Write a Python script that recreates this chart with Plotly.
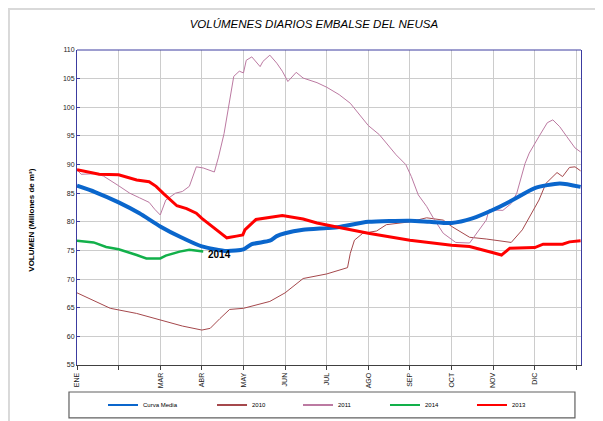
import plotly.graph_objects as go

# ---- data (day of year, volume in millones de m3) ----
media_dias = [0, 13, 30, 45, 60, 75, 90, 108, 120, 126, 139, 144, 150, 163, 180, 189, 210, 240, 254, 270, 285, 300, 314, 330, 348, 363]
media_vol = [86.3, 85.2, 83.4, 81.5, 79.2, 77.3, 75.7, 74.9, 75.2, 76.1, 76.7, 77.5, 78.0, 78.6, 78.9, 79.1, 80.0, 80.2, 80.0, 79.8, 80.6, 82.1, 83.8, 85.9, 86.7, 86.1]

v2010_dias = [0, 9, 24, 43, 60, 76, 90, 96, 103, 110, 120, 129, 139, 150, 163, 180, 189, 195, 197, 200, 206, 216, 223, 240, 252, 264, 270, 283, 295, 313, 321, 329, 333, 338, 346, 350, 355, 359, 363]
v2010_vol = [67.6, 66.6, 64.9, 64.0, 62.8, 61.8, 61.1, 61.4, 63.1, 64.7, 64.9, 65.5, 66.1, 67.6, 70.1, 70.9, 71.5, 72.0, 74.5, 76.8, 78.0, 78.4, 79.5, 80.0, 80.7, 80.3, 79.2, 77.3, 77.0, 76.4, 78.6, 82.1, 83.8, 86.7, 88.6, 87.9, 89.5, 89.6, 88.9]

v2011_dias = [0, 3, 13, 19, 30, 38, 45, 52, 56, 60, 64, 71, 76, 81, 86, 91, 99, 102, 106, 110, 113, 117, 120, 122, 126, 132, 134, 139, 144, 148, 152, 158, 163, 173, 180, 189, 197, 210, 218, 230, 237, 241, 246, 252, 257, 264, 273, 283, 289, 295, 297, 307, 313, 317, 323, 326, 333, 339, 343, 348, 353, 359, 363]
v2011_vol = [89.1, 88.3, 88.4, 88.0, 86.3, 85.0, 84.2, 83.4, 82.2, 81.2, 83.8, 85.0, 85.3, 86.2, 89.6, 89.4, 88.7, 91.3, 95.4, 101.3, 105.4, 106.3, 106.0, 108.2, 108.8, 107.1, 108.0, 109.1, 107.7, 106.3, 104.5, 106.1, 105.1, 104.3, 103.5, 102.2, 100.7, 96.8, 95.2, 91.7, 90.0, 87.9, 84.7, 82.7, 80.6, 78.0, 76.4, 76.3, 78.3, 80.3, 82.1, 82.0, 83.2, 85.0, 90.2, 92.0, 94.9, 97.3, 97.8, 96.6, 94.9, 92.9, 92.2]

v2014_dias = [0, 12, 21, 30, 43, 50, 60, 64, 74, 81, 91]
v2014_vol = [76.7, 76.4, 75.6, 75.2, 74.2, 73.6, 73.6, 74.1, 74.8, 75.1, 74.8]

v2013_dias = [0, 16, 30, 43, 52, 57, 62, 72, 79, 86, 90, 96, 108, 115, 119.5, 121, 129, 148, 163, 173, 182, 189, 210, 240, 270, 283, 300, 306, 312, 330, 336, 350, 355, 363]
v2013_vol = [89.1, 88.3, 88.2, 87.3, 87.0, 86.2, 85.0, 82.8, 82.3, 81.5, 80.6, 79.5, 77.2, 77.5, 77.7, 78.6, 80.4, 81.1, 80.5, 79.8, 79.3, 79.0, 78.0, 76.8, 75.9, 75.7, 74.6, 74.2, 75.4, 75.5, 76.1, 76.1, 76.5, 76.7]

tick_dias = [0, 60, 90, 120, 150, 180, 210, 240, 270, 300, 330]
tick_meses = ["ENE", "MAR", "ABR", "MAY", "JUN", "JUL", "AGO", "SEP", "OCT", "NOV", "DIC"]
y_ticks = [55, 60, 65, 70, 75, 80, 85, 90, 95, 100, 105, 110]

FONT = "Arial, Liberation Sans, sans-serif"

series = [
    ("2010", v2010_dias, v2010_vol, "#A5484C", 1, "linear", "legend2"),
    ("2011", v2011_dias, v2011_vol, "#BC7AA2", 1, "linear", "legend3"),
    ("Curva Media", media_dias, media_vol, "#0A66CC", 4, "spline", "legend"),
    ("2014", v2014_dias, v2014_vol, "#12B04A", 2.5, "linear", "legend4"),
    ("2013", v2013_dias, v2013_vol, "#FF0000", 3, "linear", "legend5"),
]

fig = go.Figure()
for name, xs, ys, color, w, shape, _ in series:
    line = dict(color=color, width=w, shape=shape)
    if shape == "spline":
        line["smoothing"] = 0.6
    fig.add_trace(go.Scatter(x=xs, y=ys, mode="lines", name=name, line=line,
                             showlegend=False))
# legend entries (thin sample lines as in the reference)
for name, xs, ys, color, w, shape, leg in series:
    fig.add_trace(go.Scatter(x=[None], y=[None], mode="lines", name=name,
                             line=dict(color=color, width=2), legend=leg,
                             showlegend=True, hoverinfo="skip"))

leg_common = dict(orientation="h", xanchor="left", yanchor="middle", y=-0.127,
                  bgcolor="rgba(0,0,0,0)", borderwidth=0, itemwidth=30,
                  font=dict(family=FONT, size=6, color="#000000"))
fig.update_layout(
    legend=dict(x=0.0516, **leg_common),
    legend2=dict(x=0.2679, **leg_common),
    legend3=dict(x=0.4385, **leg_common),
    legend4=dict(x=0.6111, **leg_common),
    legend5=dict(x=0.7837, **leg_common),
)

# page body has an 8px margin, so the figure is 8px smaller than the window
fig.update_layout(
    width=595, height=413,
    margin=dict(l=69, r=22, t=42, b=56, autoexpand=False),
    paper_bgcolor="white", plot_bgcolor="white",
    title=dict(text="VOLÚMENES DIARIOS EMBALSE DEL NEUSA", x=0.47, xref="paper",
               y=1 - 16 / 413, yref="container", xanchor="center", yanchor="middle",
               font=dict(family=FONT, size=11.5, color="#000000", style="italic")),
    xaxis=dict(range=[0, 363.3], tickmode="array", tickvals=tick_dias, ticktext=tick_meses,
               tickangle=-90, showgrid=True, gridcolor="#CCCCCC", gridwidth=1, zeroline=False,
               showline=True, linecolor="#404040", linewidth=1,
               ticks="outside", ticklen=4, tickcolor="#404040",
               minor=dict(tick0=0, dtick=30, showgrid=True, gridcolor="#CCCCCC", gridwidth=1,
                          ticks="outside", ticklen=4, tickcolor="#404040"),
               tickfont=dict(family=FONT, size=7, color="#222222")),
    yaxis=dict(range=[55, 110], tickvals=y_ticks, showgrid=True, gridcolor="#CCCCCC",
               gridwidth=1, zeroline=False, showline=True, linecolor="#3C3CA0", linewidth=1,
               mirror=True, ticks="inside", ticklen=3, tickcolor="#3C3CA0",
               tickfont=dict(family=FONT, size=7, color="#222222")),
)

# top border of plot area
fig.add_shape(type="line", xref="paper", yref="paper", x0=0, x1=1, y0=1, y1=1,
              line=dict(color="#3C3CA0", width=1))
# legend box
fig.add_shape(type="rect", xref="paper", yref="paper", x0=-0.0159, x1=0.988,
              y0=-0.168, y1=-0.0857, line=dict(color="#606060", width=1.2))
# outer chart frame
fig.add_shape(type="rect", xref="paper", yref="paper", x0=-0.135, x1=1.2,
              y0=-0.3, y1=1.13, line=dict(color="#D9D9D9", width=2), layer="below")

# y axis title
fig.add_annotation(text="VOLUMEN (Millones de m³)", xref="paper", yref="paper",
                   x=-0.103, y=0.46, textangle=-90, showarrow=False,
                   font=dict(family=FONT, size=8, color="#000000", weight="bold"))
# 2014 label at end of series
fig.add_annotation(text="2014", x=v2014_dias[-1] + 2, y=v2014_vol[-1], xanchor="left",
                   yanchor="middle", yshift=-3, showarrow=False,
                   font=dict(family=FONT, size=10, color="#000000", weight="bold"))

fig.write_html("out.html")
